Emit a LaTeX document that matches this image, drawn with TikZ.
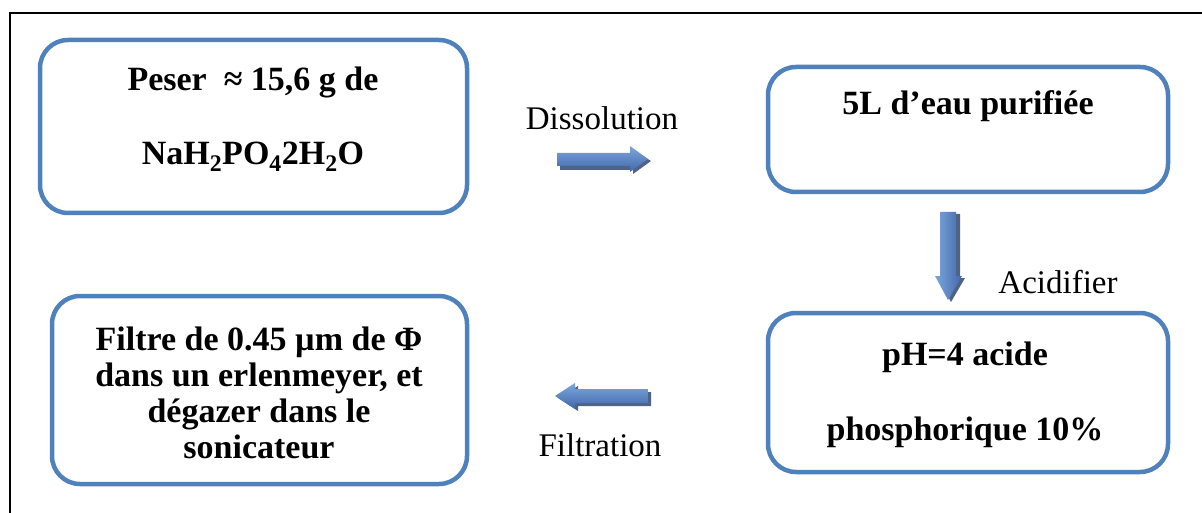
\documentclass[tikz,border=0pt]{standalone}
\usepackage{fontspec}
\setmainfont{Liberation Serif}
\definecolor{boxblue}{RGB}{79,129,189}
\definecolor{arrlight}{RGB}{125,165,220}
\definecolor{arrdark}{RGB}{65,105,170}
\definecolor{arrshadow}{RGB}{35,60,105}
\begin{document}
\begin{tikzpicture}[x=1pt,y=-1pt,
  box/.style={draw=boxblue,line width=4.5pt,rounded corners=28pt},
  btxt/.style={font=\fontsize{34}{36}\selectfont\bfseries,align=center,inner sep=0pt},
  ltxt/.style={font=\fontsize{33}{36}\selectfont,inner sep=0pt},
  ashadow/.style={fill=arrshadow,opacity=0.8},
  harrow/.style={top color=arrlight,bottom color=arrdark,draw=none},
  varrow/.style={left color=arrlight,right color=arrdark,draw=none}]
\useasboundingbox (0,0) rectangle (1202,513);
% outer frame (top and left edges)
\draw[line width=2pt] (10,513) -- (10,13) -- (1202,13);
% boxes
\draw[box] (40,40) rectangle (467,213);
\draw[box] (768,67) rectangle (1168,192);
\draw[box] (768,313) rectangle (1168,472);
\draw[box] (52,296) rectangle (467,484);
% box texts
\node[btxt] (t1a) at (253,82) {Peser ~≈ 15,6 g de};
\node[btxt] (t1b) at (253,157) {NaH\textsubscript{2}PO\textsubscript{4}2H\textsubscript{2}O};
\node[btxt] (t2) at (968,106) {5L d’eau purifiée};
\node[btxt] (t3a) at (965,357) {pH=4 acide};
\node[btxt] (t3b) at (965,432) {phosphorique 10\%};
\node[btxt] (t4) at (259,393) {Filtre de 0.45 µm de Φ\\dans un erlenmeyer, et\\dégazer dans le\\sonicateur};
% labels
\node[ltxt] (l1) at (602,118) {Dissolution};
\node[ltxt] (l2) at (1058,282) {Acidifier};
\node[ltxt] (l3) at (600,445) {Filtration};
% right arrow
\fill[ashadow] (560,157) -- (633,157) -- (633,150) -- (651,161) -- (633,174) -- (633,170) -- (560,170) -- cycle;
\path[harrow] (557,153) -- (630,153) -- (630,146) -- (648,159) -- (630,172) -- (630,166) -- (557,166) -- cycle;
% down arrow
\fill[ashadow] (943,214) -- (960,214) -- (960,278) -- (965,278) -- (951,302) -- (938,278) -- (943,278) -- cycle;
\path[varrow] (940,212) -- (956,212) -- (956,276) -- (962,276) -- (948,300) -- (935,276) -- (940,276) -- cycle;
% left arrow
\fill[ashadow] (651,392) -- (578,392) -- (578,386) -- (558,398) -- (578,411) -- (578,406) -- (651,406) -- cycle;
\path[harrow] (648,389) -- (575,389) -- (575,383) -- (555,396) -- (575,409) -- (575,403) -- (648,403) -- cycle;
\end{tikzpicture}
\end{document}
